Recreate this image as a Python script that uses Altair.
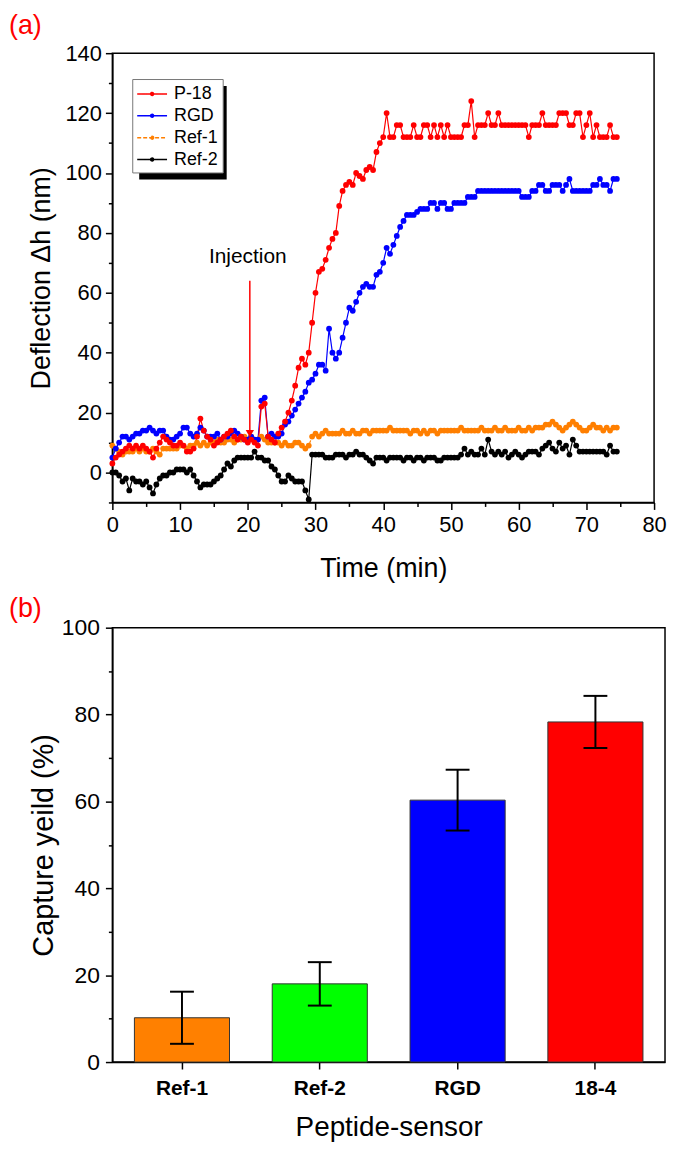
import altair as alt
import pandas as pd

FONT = "Liberation Sans"

# ---------------- Panel (a) data ----------------
time_min = [i * 0.5 for i in range(150)]

p18 = [3, 5, 6, 7, 8, 9, 8, 9, 8, 9,
       8, 7, 5, 8, 10, 12, 11, 10, 9, 9,
       10, 9, 7, 7, 8, 12, 18, 14, 12, 11,
       9, 10, 11, 12, 13, 14, 12, 11, 12, 11,
       10, 11, 10, 9, 22, 23, 12, 11, 10, 13,
       15, 17, 20, 24, 29, 35, 38, 36, 40, 50,
       60, 67, 68, 71, 75, 78, 80, 89, 94, 96,
       97, 96, 100, 99, 98, 101, 102, 101, 107, 110,
       112, 120, 112, 112, 116, 116, 112, 112, 112, 116,
       112, 112, 116, 116, 112, 116, 112, 116, 112, 116,
       112, 112, 112, 112, 116, 116, 124, 112, 116, 116,
       116, 120, 116, 116, 120, 116, 116, 116, 116, 116,
       116, 116, 116, 112, 116, 116, 116, 120, 116, 116,
       116, 116, 120, 120, 120, 116, 116, 120, 120, 112,
       116, 120, 112, 116, 112, 112, 112, 116, 112, 112]

rgd = [5, 8, 10, 12, 12, 11, 12, 13, 13, 14,
       14, 15, 14, 13, 14, 14, 12, 11, 11, 12,
       13, 15, 15, 13, 12, 13, 15, 14, 12, 12,
       12, 13, 11, 12, 12, 13, 14, 13, 12, 11,
       11, 12, 11, 11, 24, 25, 12, 13, 12, 12,
       13, 16, 17, 19, 21, 23, 25, 27, 30, 31,
       33, 36, 36, 34, 48, 40, 38, 40, 45, 50,
       55, 54, 57, 60, 62, 63, 62, 62, 66, 67,
       70, 75, 73, 76, 79, 82, 84, 86, 86, 86,
       87, 88, 88, 88, 90, 90, 88, 90, 90, 88,
       88, 90, 90, 90, 90, 92, 92, 92, 94, 94,
       94, 94, 94, 94, 94, 94, 94, 94, 94, 94,
       94, 92, 92, 92, 94, 94, 96, 96, 94, 94,
       96, 96, 96, 94, 96, 98, 94, 94, 94, 94,
       94, 94, 96, 96, 98, 96, 96, 94, 98, 98]

ref1 = [9, 8, 7, 6, 7, 7, 7, 8, 7, 8,
        7, 7, 8, 7, 6, 8, 8, 8, 8, 8,
        9, 9, 8, 9, 9, 10, 9, 10, 9, 10,
        10, 11, 10, 10, 11, 11, 10, 11, 11, 12,
        11, 12, 11, 11, 12, 11, 10, 10, 10, 10,
        9, 10, 9, 9, 10, 10, 9, 8, 9, 12,
        13, 12, 13, 14, 13, 13, 13, 13, 14, 13,
        13, 14, 13, 13, 14, 14, 13, 14, 14, 14,
        14, 14, 15, 14, 14, 14, 14, 14, 13, 14,
        14, 13, 14, 13, 14, 14, 13, 14, 14, 14,
        14, 14, 14, 15, 14, 14, 14, 14, 14, 15,
        14, 14, 14, 15, 14, 14, 15, 14, 14, 14,
        15, 14, 14, 15, 14, 15, 15, 15, 16, 16,
        17, 16, 15, 14, 15, 16, 17, 16, 15, 14,
        14, 15, 16, 15, 15, 14, 15, 14, 15, 15]

ref2 = [0, 0, -1, -3, -2, -6, -2, -3, -3, -4,
        -3, -5, -7, -4, -2, -1, -1, 0, 0, 1,
        1, 1, 0, 1, -1, -3, -5, -4, -4, -4,
        -3, -2, -1, 1, 3, 2, 4, 5, 5, 5,
        5, 5, 7, 5, 5, 4, 4, 2, 1, -1,
        -3, -3, -1, -2, -3, -3, -3, -6, -9, 6,
        6, 6, 6, 5, 5, 5, 6, 6, 6, 5,
        6, 6, 7, 6, 6, 5, 4, 3, 5, 5,
        5, 4, 5, 5, 5, 5, 4, 5, 5, 4,
        5, 5, 4, 5, 5, 5, 4, 4, 5, 5,
        5, 5, 5, 6, 8, 6, 7, 6, 6, 8,
        6, 11, 7, 6, 7, 6, 7, 5, 6, 7,
        6, 5, 6, 7, 7, 7, 6, 8, 9, 10,
        8, 7, 10, 8, 9, 6, 11, 9, 7, 7,
        7, 7, 7, 7, 7, 7, 6, 9, 7, 7]

series_names = ["P-18", "RGD", "Ref-1", "Ref-2"]
series_colors = ["#FF0000", "#0000FF", "#FF7F00", "#000000"]
series_dash = [[1, 0], [1, 0], [4, 2], [1, 0]]

injection_label = "Injection"
injection_time = 20.3
injection_top = 64
injection_tip = 13
injection_text_time = 20.0
injection_text_value = 72

# ---------------- Panel (b) data ----------------
sensors = ["Ref-1", "Ref-2", "RGD", "18-4"]
yields = [10.2, 18.0, 60.3, 78.3]
yield_err = [6.0, 5.0, 7.0, 6.0]
bar_colors = ["#FF8000", "#00FF00", "#0000FF", "#FF0000"]

# ---------------- build tables ----------------
rows = []
draw_order = ["Ref-2", "Ref-1", "RGD", "P-18"]
series_vals = {"P-18": p18, "RGD": rgd, "Ref-1": ref1, "Ref-2": ref2}
for name in draw_order:
    for t, v in zip(time_min, series_vals[name]):
        rows.append({"time": t, "value": v, "series": name})
df = pd.DataFrame(rows)

LEG_PATH = ("M-1.5,0H1.5"
            "M0.15,0A0.15,0.15,0,1,1,-0.15,0A0.15,0.15,0,1,1,0.15,0"
            "M0.09,0A0.09,0.09,0,1,1,-0.09,0A0.09,0.09,0,1,1,0.09,0"
            "M0.03,0A0.03,0.03,0,1,1,-0.03,0A0.03,0.03,0,1,1,0.03,0")

legend = alt.Legend(
    title=None, orient="none", legendX=20, legendY=26,
    fillColor="white", strokeColor="#777777", padding=4,
    symbolType=LEG_PATH, symbolSize=400, symbolStrokeWidth=1.5,
    symbolOffset=5, labelOffset=11, rowPadding=2,
    labelFont=FONT, labelFontSize=18, labelColor="black",
)

x_axis_a = alt.Axis(
    values=list(range(0, 81, 5)),
    labelExpr="datum.value % 10 === 0 ? datum.label : ''",
    tickSize={"condition": {"test": "datum.value % 10 === 0", "value": 7}, "value": 4},
    title="Time (min)", grid=False, labelOverlap=False, labelFlush=False,
    domainColor="black", domainWidth=1.5, tickColor="black", tickWidth=1.5,
    labelFont=FONT, labelFontSize=22, labelColor="black", labelPadding=5,
    titleFont=FONT, titleFontSize=27, titleFontWeight="normal", titleColor="black",
    titlePadding=20,
)
y_axis_a = alt.Axis(
    values=list(range(-10, 141, 10)),
    labelExpr="datum.value % 20 === 0 ? datum.label : ''",
    tickSize={"condition": {"test": "datum.value % 20 === 0", "value": 7}, "value": 4},
    title="Deflection \u0394h (nm)", grid=False, labelOverlap=False, labelFlush=False,
    domainColor="black", domainWidth=1.5, tickColor="black", tickWidth=1.5,
    labelFont=FONT, labelFontSize=22, labelColor="black", labelPadding=4,
    titleFont=FONT, titleFontSize=27, titleFontWeight="normal", titleColor="black",
    titlePadding=10,
)
x_scale_a = alt.Scale(domain=[0, 80], nice=False)
y_scale_a = alt.Scale(domain=[-10, 140], nice=False)


def xa(field):
    return alt.X(field, type="quantitative", scale=x_scale_a, axis=x_axis_a)


def ya(field):
    return alt.Y(field, type="quantitative", scale=y_scale_a, axis=y_axis_a)


shadow = alt.Chart(pd.DataFrame({"k": [0]})).mark_rect(color="black").encode(
    x=alt.value(27), x2=alt.value(115), y=alt.value(33), y2=alt.value(127)
)

lines = alt.Chart(df).mark_line(strokeWidth=1.2).encode(
    x=xa("time"), y=ya("value"),
    color=alt.Color("series:N", scale=alt.Scale(domain=series_names, range=series_colors), legend=legend),
    strokeDash=alt.StrokeDash("series:N", scale=alt.Scale(domain=series_names, range=series_dash), legend=legend),
    detail="series:N",
)
points = alt.Chart(df).mark_point(filled=True, size=34, opacity=1, strokeWidth=0).encode(
    x=xa("time"), y=ya("value"),
    fill=alt.Fill("series:N", scale=alt.Scale(domain=series_names, range=series_colors), legend=None),
)

inj_df = pd.DataFrame({"time": [injection_time], "value": [injection_top], "tip": [injection_tip],
                       "tx": [injection_text_time], "ty": [injection_text_value], "label": [injection_label]})
arrow = alt.Chart(inj_df).mark_rule(color="red", strokeWidth=1.5).encode(
    x=xa("time"), y=ya("value"), y2="tip:Q"
)
arrow_head = alt.Chart(inj_df).mark_point(shape="triangle-down", filled=True, color="red", size=70, opacity=1).encode(
    x=xa("time"), y=ya("tip")
)
inj_text = alt.Chart(inj_df).mark_text(font=FONT, fontSize=21, color="black", align="center").encode(
    x=xa("tx"), y=ya("ty"), text="label:N"
)

top = alt.layer(shadow, lines, points, arrow, arrow_head, inj_text).properties(
    width=545, height=452,
    title=alt.TitleParams("(a)", anchor="start", frame="group", dx=-104, fontSize=27,
                          font=FONT, fontWeight="normal", color="red", offset=2),
)

# ---------------- Panel (b) ----------------
bar_df = pd.DataFrame({
    "sensor": sensors,
    "yield": yields,
    "lo": [v - e for v, e in zip(yields, yield_err)],
    "hi": [v + e for v, e in zip(yields, yield_err)],
})

x_axis_b = alt.Axis(
    title="Peptide-sensor", labelAngle=0, tickSize=7, grid=False,
    domainColor="black", domainWidth=1.5, tickColor="black", tickWidth=1.5,
    labelFont=FONT, labelFontSize=21, labelFontWeight="bold", labelColor="black", labelPadding=9,
    titleFont=FONT, titleFontSize=28, titleFontWeight="normal", titleColor="black", titlePadding=15,
)
y_axis_b = alt.Axis(
    values=list(range(0, 101, 10)),
    labelExpr="datum.value % 20 === 0 ? datum.label : ''",
    tickSize={"condition": {"test": "datum.value % 20 === 0", "value": 7}, "value": 4},
    title="Capture yeild (%)", grid=False, labelOverlap=False, labelFlush=False,
    domainColor="black", domainWidth=1.5, tickColor="black", tickWidth=1.5,
    labelFont=FONT, labelFontSize=23, labelColor="black", labelPadding=6,
    titleFont=FONT, titleFontSize=29, titleFontWeight="normal", titleColor="black", titlePadding=3,
)
x_scale_b = alt.Scale(paddingInner=0.31, paddingOuter=0.16)
y_scale_b = alt.Scale(domain=[0, 100], nice=False)


def xb():
    return alt.X("sensor", type="nominal", sort=sensors, scale=x_scale_b, axis=x_axis_b)


def yb(field):
    return alt.Y(field, type="quantitative", scale=y_scale_b, axis=y_axis_b)


bars = alt.Chart(bar_df).mark_bar(stroke="#333333", strokeWidth=1).encode(
    x=xb(), y=yb("yield"),
    fill=alt.Fill("sensor:N", scale=alt.Scale(domain=sensors, range=bar_colors), legend=None),
)
err_rule = alt.Chart(bar_df).mark_rule(color="black", strokeWidth=2).encode(
    x=xb(), y=yb("lo"), y2="hi:Q"
)
cap_lo = alt.Chart(bar_df).mark_tick(color="black", size=24, thickness=2, opacity=1).encode(
    x=xb(), y=yb("lo")
)
cap_hi = alt.Chart(bar_df).mark_tick(color="black", size=24, thickness=2, opacity=1).encode(
    x=xb(), y=yb("hi")
)

bottom = alt.layer(bars, err_rule, cap_lo, cap_hi).properties(
    width=556, height=437,
    title=alt.TitleParams("(b)", anchor="start", frame="group", dx=-104, fontSize=27,
                          font=FONT, fontWeight="normal", color="red", offset=-6),
)

chart = alt.vconcat(top, bottom, spacing=12).resolve_scale(
    x="independent", y="independent", color="independent", fill="independent", strokeDash="independent"
).properties(padding=0).configure_view(stroke="black", strokeWidth=1.5)

chart.save("out.html", embed_options={"renderer": "svg", "actions": False})
